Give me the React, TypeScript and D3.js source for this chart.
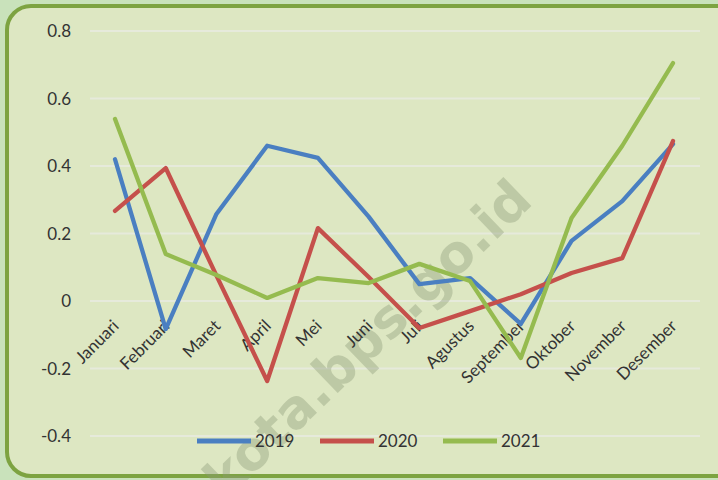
import React, { useEffect, useRef } from "react";
import * as d3 from "d3";

const months = ["Januari", "Februari", "Maret", "April", "Mei", "Juni", "Juli", "Agustus", "September", "Oktober", "November", "Desember"];
const s2019 = [0.42, -0.083, 0.258, 0.46, 0.424, 0.25, 0.05, 0.068, -0.068, 0.178, 0.296, 0.465];
const s2020 = [0.267, 0.394, 0.075, -0.237, 0.216, 0.071, -0.08, -0.03, 0.02, 0.083, 0.127, 0.474];
const s2021 = [0.539, 0.139, 0.077, 0.009, 0.068, 0.053, 0.11, 0.059, -0.169, 0.246, 0.46, 0.705];
const seriesNames = ["2019", "2020", "2021"];
const seriesColors = ["#4a7fc1", "#c5504b", "#95bb4f"];
const yTicks = [-0.4, -0.2, 0, 0.2, 0.4, 0.6, 0.8];
const yTickLabels = ["-0.4", "-0.2", "0", "0.2", "0.4", "0.6", "0.8"];

const W = 718;
const H = 480;
const FONT = "Lato, 'Open Sans', sans-serif";

export default function App() {
  const ref = useRef<SVGSVGElement>(null);

  useEffect(() => {
    const svg = d3.select(ref.current);
    svg.selectAll("*").remove();

    // page background
    svg.append("rect").attr("x", 0).attr("y", 0).attr("width", W).attr("height", H).attr("fill", "#c9e2bb");
    // chart frame
    svg.append("rect")
      .attr("x", 7).attr("y", 6).attr("width", W + 20).attr("height", 470)
      .attr("rx", 24).attr("ry", 24)
      .attr("fill", "#dde7c2").attr("stroke", "#7da341").attr("stroke-width", 4);

    const x = d3.scalePoint<string>().domain(months).range([115, 673]);
    const y = d3.scaleLinear().domain([-0.4, 0.8]).range([436, 31]);

    // gridlines
    svg.append("g").selectAll("line").data(yTicks).join("line")
      .attr("x1", 90).attr("x2", 700)
      .attr("y1", (d) => y(d)).attr("y2", (d) => y(d))
      .attr("stroke", "#e6eadb").attr("stroke-width", 2);

    // watermark
    svg.append("text")
      .attr("transform", `translate(380,352) rotate(-44)`)
      .attr("text-anchor", "middle")
      .attr("font-family", "'DejaVu Sans', sans-serif")
      .attr("font-weight", "bold")
      .attr("font-size", 53)
      .attr("fill", "#8c9a78")
      .attr("opacity", 0.38)
      .text("kota.bps.go.id");

    // y labels
    svg.append("g").selectAll("text").data(yTicks).join("text")
      .attr("x", 71).attr("y", (d) => y(d) + 6)
      .attr("text-anchor", "end")
      .attr("font-family", FONT).attr("font-size", 17)
      .attr("fill", "#333333")
      .text((_, i) => yTickLabels[i]);

    // x labels
    svg.append("g").selectAll("text").data(months).join("text")
      .attr("transform", (d) => `translate(${(x(d) as number) + 5},${y(0) + 26}) rotate(-45)`)
      .attr("text-anchor", "end")
      .attr("font-family", FONT).attr("font-size", 17)
      .attr("fill", "#333333")
      .text((d) => d);

    const all = [s2019, s2020, s2021];
    const line = d3.line<number>()
      .x((_, i) => x(months[i]) as number)
      .y((d) => y(d));

    all.forEach((s, k) => {
      svg.append("path")
        .datum(s)
        .attr("d", line)
        .attr("fill", "none")
        .attr("stroke", seriesColors[k])
        .attr("stroke-width", 4.3)
        .attr("stroke-linejoin", "round")
        .attr("stroke-linecap", "round");
    });

    // legend
    const legX = [197, 320, 443];
    const lg = svg.append("g");
    seriesNames.forEach((n, k) => {
      lg.append("line")
        .attr("x1", legX[k]).attr("x2", legX[k] + 54)
        .attr("y1", 441).attr("y2", 441)
        .attr("stroke", seriesColors[k]).attr("stroke-width", 5);
      lg.append("text")
        .attr("x", legX[k] + 58).attr("y", 447)
        .attr("font-family", FONT).attr("font-size", 17)
        .attr("fill", "#333333")
        .text(n);
    });
  }, []);

  return (
    <svg
      ref={ref}
      width={W}
      height={H}
      style={{ position: "absolute", left: 0, top: 0, display: "block" }}
    />
  );
}
